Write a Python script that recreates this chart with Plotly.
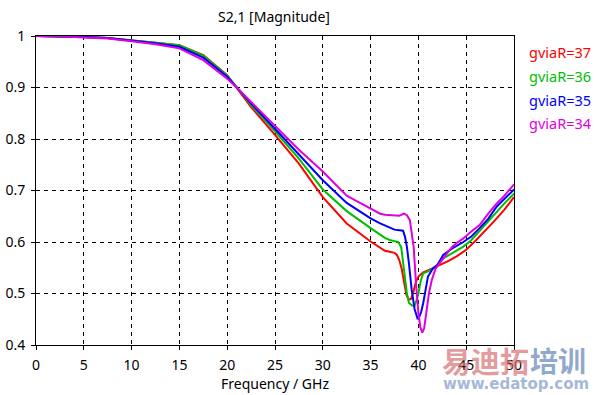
import plotly.graph_objects as go

# ---- data ----
freq_37 = [0, 2.5, 5, 7.5, 10, 12.5, 15, 17.5, 20, 21, 22.5, 25, 27.5, 30, 32.5, 35, 36, 36.5, 37, 37.5,
           37.75, 38, 38.25, 38.5, 38.75, 39, 39.25, 39.5, 39.75, 40, 40.25, 40.5, 41, 41.5, 42, 43, 44, 45,
           46, 47, 48, 49, 50]
mag_37 = [1.0, 0.9995, 0.998, 0.996, 0.992, 0.987, 0.982, 0.963, 0.924, 0.900, 0.862, 0.808, 0.752, 0.687,
          0.636, 0.601, 0.588, 0.583, 0.581, 0.579, 0.575, 0.565, 0.548, 0.520, 0.497, 0.488, 0.490, 0.505,
          0.523, 0.533, 0.538, 0.541, 0.545, 0.549, 0.554, 0.562, 0.572, 0.585, 0.603, 0.622, 0.642, 0.663,
          0.687]

freq_36 = [0, 2.5, 5, 7.5, 10, 12.5, 15, 17.5, 20, 21, 22.5, 25, 27.5, 30, 32.5, 35, 36, 36.5, 37, 37.5,
           37.9, 38.2, 38.4, 38.6, 38.8, 39, 39.3, 39.6, 39.8, 40, 40.25, 40.5, 41, 41.5, 42, 42.6, 43.5,
           44.7, 45.5, 46.4, 47.3, 48.2, 49, 50]
mag_36 = [1.0, 0.9995, 0.998, 0.996, 0.992, 0.987, 0.982, 0.962, 0.923, 0.900, 0.866, 0.815, 0.762, 0.702,
          0.660, 0.627, 0.614, 0.608, 0.604, 0.602, 0.600, 0.590, 0.565, 0.530, 0.500, 0.482, 0.477, 0.476,
          0.487, 0.500, 0.525, 0.539, 0.543, 0.548, 0.556, 0.568, 0.578, 0.591, 0.603, 0.622, 0.640, 0.659,
          0.675, 0.694]

freq_35 = [0, 2.5, 5, 7.5, 10, 12.5, 15, 17.5, 20, 21, 22.5, 25, 27.5, 30, 32.5, 35, 36, 37, 37.5, 38,
           38.4, 38.6, 38.8, 39, 39.3, 39.6, 39.9, 40.1, 40.3, 40.5, 40.75, 41, 41.5, 42, 42.6, 43.5, 44.7,
           45.5, 46.4, 47.3, 48.2, 49, 50]
mag_35 = [1.0, 0.9995, 0.998, 0.996, 0.991, 0.986, 0.979, 0.958, 0.921, 0.900, 0.869, 0.820, 0.770, 0.720,
          0.676, 0.646, 0.636, 0.627, 0.624, 0.623, 0.622, 0.610, 0.590, 0.560, 0.507, 0.470, 0.452, 0.455,
          0.465, 0.481, 0.510, 0.533, 0.548, 0.556, 0.575, 0.587, 0.600, 0.610, 0.627, 0.645, 0.669, 0.683,
          0.702]

freq_34 = [0, 2.5, 5, 7.5, 10, 12.5, 15, 17.5, 20, 21, 22.5, 25, 27.5, 30, 32.5, 33.5, 35, 36, 36.5, 37.5,
           38, 38.5, 38.8, 39.1, 39.3, 39.5, 39.75, 40, 40.2, 40.4, 40.6, 40.8, 41.1, 41.4, 41.8, 42.3, 43,
           43.5, 44, 44.7, 45.5, 46.4, 47.3, 48.2, 49, 50]
mag_34 = [1.0, 0.9995, 0.997, 0.995, 0.990, 0.984, 0.976, 0.953, 0.917, 0.900, 0.872, 0.826, 0.779, 0.737,
          0.690, 0.680, 0.665, 0.655, 0.653, 0.652, 0.651, 0.655, 0.652, 0.643, 0.620, 0.591, 0.520, 0.462,
          0.435, 0.424, 0.432, 0.460, 0.500, 0.526, 0.548, 0.561, 0.579, 0.590, 0.598, 0.607, 0.620, 0.633,
          0.655, 0.675, 0.690, 0.712]

series_names = ["gviaR=37", "gviaR=36", "gviaR=35", "gviaR=34"]
series_x = [freq_37, freq_36, freq_35, freq_34]
series_y = [mag_37, mag_36, mag_35, mag_34]
colors = ["#FF0000", "#00BE00", "#0000FF", "#E000E0"]

x_ticks = [0, 5, 10, 15, 20, 25, 30, 35, 40, 45, 50]
y_ticks = [0.4, 0.5, 0.6, 0.7, 0.8, 0.9, 1]
y_tick_labels = ["0.4", "0.5", "0.6", "0.7", "0.8", "0.9", "1"]

fig = go.Figure()
for name, xs, ys, c in zip(series_names, series_x, series_y, colors):
    fig.add_trace(go.Scatter(x=xs, y=ys, mode="lines", name=name,
                             line=dict(color=c, width=2)))

FONT = "Noto Sans"
axis_common = dict(showline=True, linecolor="black", linewidth=1, mirror=True,
                   showgrid=True, gridcolor="black", gridwidth=1, griddash="4px,4px",
                   ticks="outside", ticklen=4, tickcolor="black", zeroline=False,
                   automargin=False,
                   tickfont=dict(family=FONT, size=14, color="black"))

fig.update_layout(
    width=597, height=395,
    margin=dict(l=36, r=83, t=36, b=50, autoexpand=False),
    paper_bgcolor="white", plot_bgcolor="white",
    showlegend=False,
    xaxis=dict(range=[0, 50], tickvals=x_ticks, ticklabelstandoff=3, **axis_common),
    yaxis=dict(range=[0.4, 1], tickvals=y_ticks, ticktext=y_tick_labels, ticklabelstandoff=3,
               **axis_common),
)

# title and axis title
fig.add_annotation(text="S2,1 [Magnitude]", xref="paper", yref="paper", x=0.498, y=1.0647,
                   yanchor="middle", showarrow=False, font=dict(family=FONT, size=14, color="black"))
fig.add_annotation(text="Frequency / GHz", xref="paper", yref="paper", x=0.5, y=-0.126,
                   yanchor="middle", showarrow=False, font=dict(family=FONT, size=14, color="black"))

# legend as coloured text
leg_y = [0.948, 0.8706, 0.793, 0.718]
for name, c, yy in zip(series_names, colors, leg_y):
    fig.add_annotation(text=name, xref="paper", yref="paper", x=1.027, y=yy, xanchor="left",
                       yanchor="middle", showarrow=False, font=dict(family=FONT, size=14.5, color=c))

# watermark
fig.add_annotation(text="<b>易迪拓</b>", xref="paper", yref="paper", x=0.845, y=-0.0485, xanchor="left",
                   yanchor="middle", showarrow=False,
                   font=dict(family="Noto Sans CJK SC", size=29, color="rgba(215,110,115,0.7)"))
fig.add_annotation(text="<b>培训</b>", xref="paper", yref="paper", x=1.03, y=-0.0485, xanchor="left",
                   yanchor="middle", showarrow=False,
                   font=dict(family="Noto Sans CJK SC", size=28, color="rgba(115,145,190,0.8)"))
fig.add_annotation(text="<b>www.edatop.com</b>", xref="paper", yref="paper", x=0.847, y=-0.126, xanchor="left",
                   yanchor="middle", showarrow=False,
                   font=dict(family="DejaVu Sans", size=15, color="rgba(140,165,205,0.8)"))

fig.write_html("out.html", config={"displayModeBar": False},
               post_script="document.body.style.margin='0';")
